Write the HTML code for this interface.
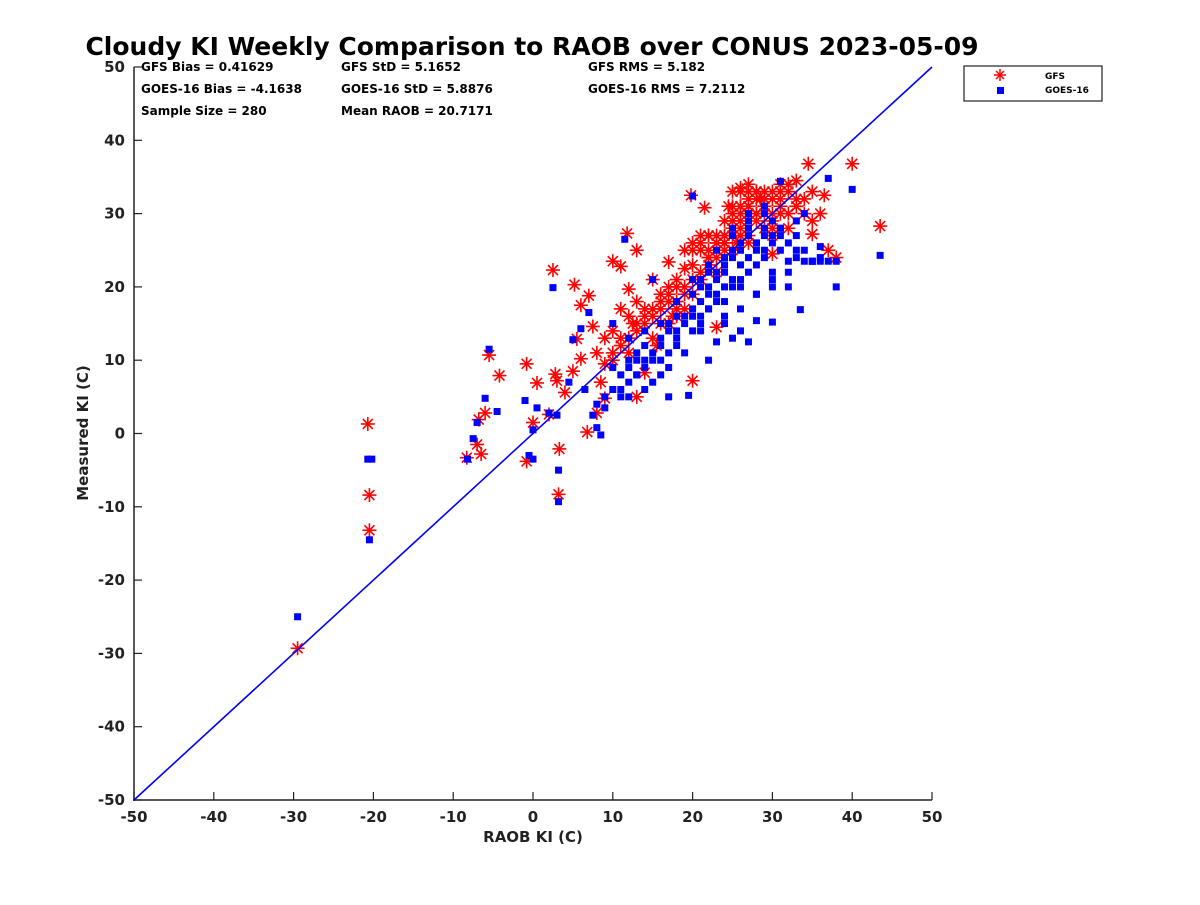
<!DOCTYPE html>
<html><head><meta charset="utf-8"><style>
body{margin:0;background:#fff;width:1200px;height:900px;overflow:hidden;font-family:"Liberation Sans",sans-serif}
svg text{font-family:"DejaVu Sans","Liberation Sans",sans-serif;font-weight:bold}
</style></head><body>
<svg id="chart" width="1200" height="900" xmlns="http://www.w3.org/2000/svg">
<rect width="1200" height="900" fill="#fff"/>
<text x="532" y="55" font-size="25" text-anchor="middle">Cloudy KI Weekly Comparison to RAOB over CONUS 2023-05-09</text>
<g font-size="12">
<text x="141" y="71">GFS Bias = 0.41629</text><text x="341" y="71">GFS StD = 5.1652</text><text x="588" y="71">GFS RMS = 5.182</text>
<text x="141" y="93">GOES-16 Bias = -4.1638</text><text x="341" y="93">GOES-16 StD = 5.8876</text><text x="588" y="93">GOES-16 RMS = 7.2112</text>
<text x="141" y="115">Sample Size = 280</text><text x="341" y="115">Mean RAOB = 20.7171</text>
</g>
<g id="axes"></g>
<g id="marks"></g>
<g>
<rect x="964" y="66" width="138" height="35" fill="#fff" stroke="#222" stroke-width="1.2"/>
<g stroke="red" stroke-width="1.5"><line x1="1000" y1="69" x2="1000" y2="81"/><line x1="994" y1="75" x2="1006" y2="75"/><line x1="996" y1="71" x2="1004" y2="79"/><line x1="996" y1="79" x2="1004" y2="71"/></g>
<rect x="997" y="87" width="7" height="7" fill="blue"/>
<text x="1045" y="79" font-size="9">GFS</text><text x="1045" y="93" font-size="9">GOES-16</text>
</g>
</svg>
<script>
const xTicks=[-50,-40,-30,-20,-10,0,10,20,30,40,50];
const yTicks=[-50,-40,-30,-20,-10,0,10,20,30,40,50];
const gfsX=[-29.5,-20.7,-20.5,-20.5,-8.3,-7,-6.5,-6.8,-6,-5.5,-4.2,-0.8,-0.8,0,0.5,2.5,2.8,3,3.3,3.2,2,4,5,5.2,5.5,6,6,7,7.5,8,6.8,8.5,9,9,10,11,11.8,12,12.5,13,13,14,15,15.5,16,17,17.5,18,19,19.8,20,21,21.5,22,23,23,24,24.5,25,25.5,26,27,28,28.5,29,30,30,31,32,33,34,34.5,35,36,36.5,37,38,40,43.5,10,11,12,13,14,15,16,17,18,19,20,21,22,23,24,25,26,27,28,29,30,31,32,33,24,26,28,22,20,18,16,14,12,30,32,27,25,23,21,19,17,15,13,11,9,8,10,12,25,27,29,31,26,28,30,24,22,20,33,35,
20,21,22,23,24,25,26,27,28,29,30,31,25,26,27,28,29,30,24,25,26,27,22,23,19,20,21,16,17,18,14,15,13,12,11,10,17,18,19,26,27,28,29,31,32,33,34,35];
const gfsY=[-29.3,1.3,-8.4,-13.2,-3.3,-1.5,-2.8,1.9,2.8,10.7,7.9,9.5,-3.8,1.5,6.9,22.3,8.1,7.2,-2.1,-8.3,2.6,5.6,8.5,20.3,12.9,17.5,10.2,18.8,14.6,2.8,0.2,7,9.5,4.8,23.5,22.8,27.3,19.7,15,5,25,8.3,13,12,18,23.4,16,20,22.5,32.5,7.2,27,30.8,25,14.5,27,29,31,33,26,33.5,27,30,32,31,30,24.5,33,30,34.5,32,36.8,27.2,30,32.5,25,24,36.8,28.3,14,13,16,15,17,16,19,18,21,19,23,22,24,26,25,27,28,30,29,32,33,31,34,32,27,31,33,27,21,17,15,15,13,27,28,33,31,24,26,25,20,21,18,17,13,11,11,11,29,31,30,32,30,33,28,26,24,25,31,33,
26,25,27,26,27,28,31,32,33,31,32,30,30,29,31,30,28,29,26,25,27,26,23,22,20,19,21,17,19,18,16,17,14,13,12,10,15,16,17,33,34,32,33,34,33,31,30,29];
const goesX=[-29.5,-20.7,-20.2,-20.5,-8.2,-7.5,-7,-6,-5.5,-4.5,-1,-0.5,0,0,0.5,2.5,2,3,3.2,3.2,4.5,5,6,6.5,7,7.5,8,8.5,9,10,11.5,12,13,14,15,16,17,19.5,20,22,23,24,25,26,27,28,30,31,33,33.5,35,36,37,38,38,40,43.5,10,11,12,13,14,15,16,17,18,19,20,21,22,23,24,25,26,27,28,29,30,31,32,33,34,35,36,30,28,26,24,22,20,18,16,14,12,27,29,31,33,34,25,23,21,19,17,15,13,11,32,30,28,26,24,22,20,18,29,27,25,23,21,
20,21,22,23,24,25,26,27,28,29,30,31,32,33,34,35,36,37,21,22,23,24,25,26,27,28,29,30,31,16,17,18,19,20,21,22,14,15,16,17,18,12,13,14,10,11,12,9,8,24,26,28,30,32,25,27,29];
const goesY=[-25,-3.5,-3.5,-14.5,-3.5,-0.7,1.5,4.8,11.5,3,4.5,-3,-3.5,0.5,3.5,19.9,2.8,2.5,-5,-9.3,7,12.8,14.3,6,16.5,2.5,0.8,-0.2,3.5,15,26.5,5,10,6,21,8,5,5.2,32.4,10,12.5,16,13,20,12.5,15.4,15.2,34.4,27,16.9,23.5,25.5,34.8,20,23.5,33.3,24.3,9,8,10,11,12,10,12,14,13,15,16,18,17,19,18,20,21,22,23,24,22,25,23.5,24,25,23.5,24,26,26,25,22,20,19,16,15,14,13,28,27,28,29,30,24,21,14,11,9,7,8,6,20,20,19,17,23,22,21,18,31,29,27,25,20,
17,16,19,18,20,21,23,24,26,25,27,28,26,25,23.5,23.5,23.5,23.5,21,23,22,24,25,26,27,25,28,29,27,13,15,14,16,14,15,17,10,11,10,11,12,7,8,9,6,5,9,5,4,15,14,19,21,22,28,30,30];
const x=v=>134+(v+50)*7.98, y=v=>800-(v+50)*7.33;
const NS="http://www.w3.org/2000/svg";
function mk(t,a,p){const e=document.createElementNS(NS,t);for(const k in a)e.setAttribute(k,a[k]);p.appendChild(e);return e;}
const ax=document.getElementById('axes'), mg=document.getElementById('marks');
const xl=mk('line',{x1:133,y1:800,x2:932,y2:800,stroke:'#222','stroke-width':1.5},ax);


const yl=mk('line',{x1:134,y1:67,x2:134,y2:801,stroke:'#222','stroke-width':1.5},ax);


xTicks.forEach(t=>{mk('line',{x1:x(t),y1:800,x2:x(t),y2:792,stroke:'#222','stroke-width':1.2},ax);
const tx=mk('text',{x:x(t),y:822,'font-size':15,'text-anchor':'middle',fill:'#222'},ax);tx.textContent=t;

});
yTicks.forEach(t=>{mk('line',{x1:134,y1:y(t),x2:142,y2:y(t),stroke:'#222','stroke-width':1.2},ax);
const tx=mk('text',{x:125,y:y(t)+5,'font-size':15,'text-anchor':'end',fill:'#222'},ax);tx.textContent=t;

});
const xt=mk('text',{x:533,y:842,'font-size':15,'text-anchor':'middle',fill:'#222'},ax);xt.textContent='RAOB KI (C)';


const yt=mk('text',{x:0,y:0,'font-size':15,'text-anchor':'middle',fill:'#222',transform:'translate(88,433) rotate(-90)'},ax);yt.textContent='Measured KI (C)';


gfsX.forEach((v,i)=>{const cx=x(v),cy=y(gfsY[i]);const g=mk('g',{stroke:'red','stroke-width':1.6},mg);


mk('line',{x1:cx,y1:cy-7,x2:cx,y2:cy+7},g);mk('line',{x1:cx-7,y1:cy,x2:cx+7,y2:cy},g);
mk('line',{x1:cx-5,y1:cy-5,x2:cx+5,y2:cy+5},g);mk('line',{x1:cx-5,y1:cy+5,x2:cx+5,y2:cy-5},g);});
goesX.forEach((v,i)=>{const r=mk('rect',{x:x(v)-3.5,y:y(goesY[i])-3.5,width:7,height:7,fill:'blue'},mg);

});
const ref=mk('line',{x1:x(-50),y1:y(-50),x2:x(50),y2:y(50),stroke:'blue','stroke-width':1.6},mg);


</script>
</body></html>
